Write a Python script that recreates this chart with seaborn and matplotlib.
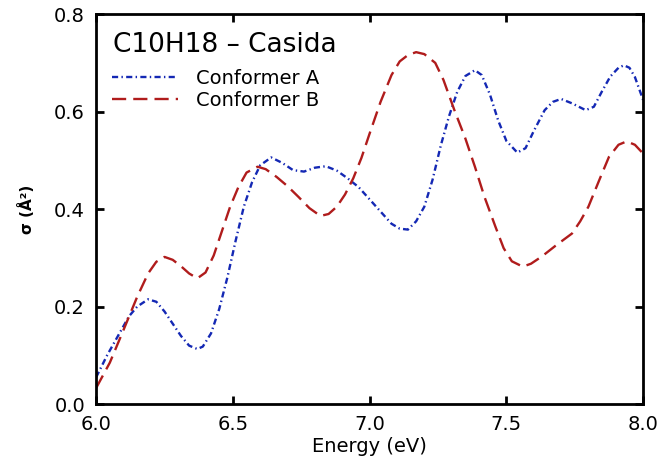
import matplotlib
matplotlib.use("Agg")
import matplotlib.pyplot as plt
import pandas as pd
import seaborn as sns

# Values
energy_a = [6.00, 6.04, 6.08, 6.12, 6.15, 6.19, 6.22, 6.25, 6.28, 6.31, 6.34, 6.37,
            6.39, 6.42, 6.45, 6.48, 6.51, 6.54, 6.57, 6.60, 6.64, 6.68, 6.72, 6.76,
            6.80, 6.84, 6.88, 6.92, 6.96, 7.00, 7.04, 7.08, 7.11, 7.14, 7.17, 7.20,
            7.23, 7.26, 7.29, 7.32, 7.35, 7.385, 7.41, 7.44, 7.47, 7.50, 7.54, 7.57,
            7.60, 7.64, 7.67, 7.70, 7.74, 7.79, 7.82, 7.85, 7.88, 7.91, 7.93, 7.95,
            7.97, 8.00]
sigma_a = [0.055, 0.10, 0.14, 0.18, 0.20, 0.215, 0.21, 0.19, 0.165, 0.14, 0.12, 0.113,
           0.118, 0.145, 0.195, 0.26, 0.335, 0.405, 0.455, 0.49, 0.506, 0.495, 0.48, 0.477,
           0.485, 0.488, 0.479, 0.463, 0.445, 0.42, 0.395, 0.37, 0.36, 0.358, 0.375, 0.405,
           0.46, 0.53, 0.59, 0.64, 0.673, 0.685, 0.675, 0.635, 0.582, 0.54, 0.516, 0.525,
           0.56, 0.603, 0.62, 0.626, 0.617, 0.603, 0.61, 0.642, 0.672, 0.69, 0.695, 0.69,
           0.671, 0.624]

energy_b = [6.00, 6.05, 6.10, 6.15, 6.19, 6.22, 6.25, 6.28, 6.31, 6.34, 6.37, 6.40,
            6.43, 6.46, 6.49, 6.52, 6.55, 6.59, 6.62, 6.66, 6.70, 6.74, 6.78, 6.82,
            6.85, 6.88, 6.91, 6.94, 6.97, 7.00, 7.04, 7.08, 7.11, 7.14, 7.17, 7.20,
            7.24, 7.27, 7.31, 7.35, 7.385, 7.42, 7.46, 7.49, 7.52, 7.56, 7.59, 7.63,
            7.68, 7.74, 7.77, 7.80, 7.84, 7.875, 7.91, 7.94, 7.97, 8.00]
sigma_b = [0.033, 0.085, 0.152, 0.22, 0.268, 0.292, 0.302, 0.296, 0.283, 0.268, 0.258, 0.27,
           0.305, 0.355, 0.405, 0.445, 0.475, 0.487, 0.482, 0.466, 0.447, 0.425, 0.402, 0.386,
           0.39, 0.405, 0.43, 0.463, 0.505, 0.555, 0.62, 0.675, 0.703, 0.716, 0.722, 0.718,
           0.70, 0.665, 0.603, 0.545, 0.487, 0.425, 0.364, 0.32, 0.293, 0.282, 0.288, 0.303,
           0.325, 0.35, 0.375, 0.405, 0.46, 0.507, 0.532, 0.539, 0.532, 0.514]

labels = ["Conformer A", "Conformer B"]

df = pd.concat([
    pd.DataFrame({"energy": energy_a, "sigma": sigma_a, "conf": labels[0]}),
    pd.DataFrame({"energy": energy_b, "sigma": sigma_b, "conf": labels[1]}),
])

sns.set_style("ticks")
plt.rcParams["font.family"] = ["DejaVu Sans"]
plt.rcParams["text.color"] = "black"
plt.rcParams["axes.labelcolor"] = "black"
plt.rcParams["xtick.color"] = "black"
plt.rcParams["ytick.color"] = "black"

fig = plt.figure(figsize=(6.63, 4.71), dpi=100)
ax = fig.add_axes([0.145, 0.142, 0.825, 0.828])

palette = {labels[0]: "#1428b4", labels[1]: "#b01c1c"}
dashes = {labels[0]: (2.6, 1.4, 0.6, 1.4), labels[1]: (6.0, 3.0)}
sns.lineplot(data=df, x="energy", y="sigma", hue="conf", style="conf",
             palette=palette, dashes=dashes, linewidth=1.7, sort=False,
             estimator=None, ax=ax)

ax.set_xlim(6.0, 8.0)
ax.set_ylim(0.0, 0.8)
ax.set_xticks([6.0, 6.5, 7.0, 7.5, 8.0])
ax.set_yticks([0.0, 0.2, 0.4, 0.6, 0.8])
ax.xaxis.set_major_formatter(matplotlib.ticker.FormatStrFormatter("%.1f"))
ax.yaxis.set_major_formatter(matplotlib.ticker.FormatStrFormatter("%.1f"))
ax.tick_params(direction="in", length=6, width=2, labelsize=14, top=True, right=True)
ax.tick_params(axis="y", pad=8)
ax.tick_params(axis="x", pad=8)
for s in ax.spines.values():
    s.set_linewidth(2)
    s.set_color("black")

ax.set_xlabel("Energy (eV)", fontsize=14, labelpad=2)
ax.set_ylabel("σ (Å²)", fontsize=11, fontweight="bold", labelpad=14)

ax.text(0.03, 0.92, "C10H18 – Casida", transform=ax.transAxes,
        fontsize=19, va="center", ha="left")

leg = ax.legend(loc="upper left", bbox_to_anchor=(0.015, 0.88), frameon=False,
                fontsize=14, handlelength=3.4, handletextpad=0.9,
                labelspacing=0.15, borderaxespad=0.0)
for line in leg.get_lines():
    line.set_linewidth(1.7)

fig.savefig("out.png", dpi=100)
